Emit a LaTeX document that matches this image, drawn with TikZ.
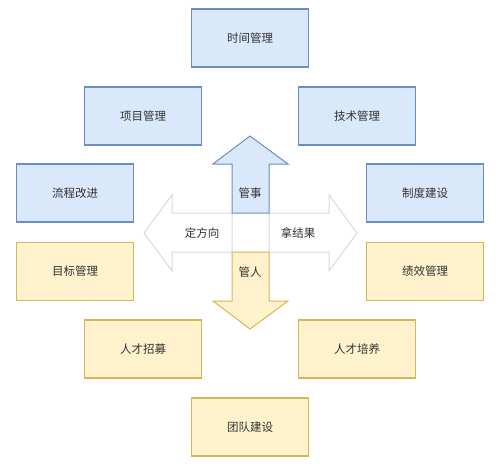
\documentclass[tikz,border=0pt]{standalone}
\usepackage{fontspec}
\setmainfont{Noto Sans CJK SC}
\usepackage{tikz}

\definecolor{shiFill}{HTML}{DAE8FC}
\definecolor{shiLine}{HTML}{6C8EBF}
\definecolor{renFill}{HTML}{FFF2CC}
\definecolor{renLine}{HTML}{D6B656}
\definecolor{wayLine}{HTML}{D9D9D9}
\definecolor{txt}{HTML}{333333}

\begin{document}
\begin{tikzpicture}[x=1pt,y=-1pt]
    \tikzstyle{box} = [draw, rectangle, minimum width=117pt, minimum height=58pt, line width=1.3pt, text=txt, inner sep=0pt, font=\fontsize{11.5}{13}\selectfont];
    \tikzstyle{shi} = [box, fill=shiFill, draw=shiLine];
    \tikzstyle{ren} = [box, fill=renFill, draw=renLine];
    \tikzstyle{way} = [draw=wayLine, fill=white, line width=1pt, line join=miter];
    \tikzstyle{label} = [text=txt, inner sep=0pt, font=\fontsize{11.5}{13}\selectfont];
    \useasboundingbox (0,0) rectangle (500,467);
    % managing things
    \node[shi] (time) at (250,38) {时间管理};
    \node[shi] (proj) at (143,116) {项目管理};
    \node[shi] (tech) at (357,116) {技术管理};
    \node[shi] (flow) at (75,193) {流程改进};
    \node[shi] (rule) at (425,193) {制度建设};
    % managing people
    \node[ren] (goal) at (75,271.5) {目标管理};
    \node[ren] (perf) at (425,271.5) {绩效管理};
    \node[ren] (hire) at (143,349) {人才招募};
    \node[ren] (grow) at (357,349) {人才培养};
    \node[ren] (team) at (250,427) {团队建设};
    % the four arrows
    \path[way] (232,213) -- (172,213) -- (172,195) -- (144,233) -- (172,271) -- (172,252) -- (232,252) -- cycle;
    \path[way] (269,213) -- (329,213) -- (329,195) -- (357,233) -- (329,271) -- (329,252) -- (269,252) -- cycle;
    \path[draw=shiLine, fill=shiFill, line width=1pt] (232,213) -- (232,164) -- (213,164) -- (250,136) -- (288,164) -- (269,164) -- (269,213) -- cycle;
    \path[draw=renLine, fill=renFill, line width=1pt] (232,252) -- (232,301) -- (213,301) -- (250,329) -- (288,301) -- (269,301) -- (269,252) -- cycle;
    \node[label] (things) at (250,193) {管事};
    \node[label] (people) at (250,272) {管人};
    \node[label] (dir) at (202,233) {定方向};
    \node[label] (res) at (298,233) {拿结果};
\end{tikzpicture}
\end{document}
